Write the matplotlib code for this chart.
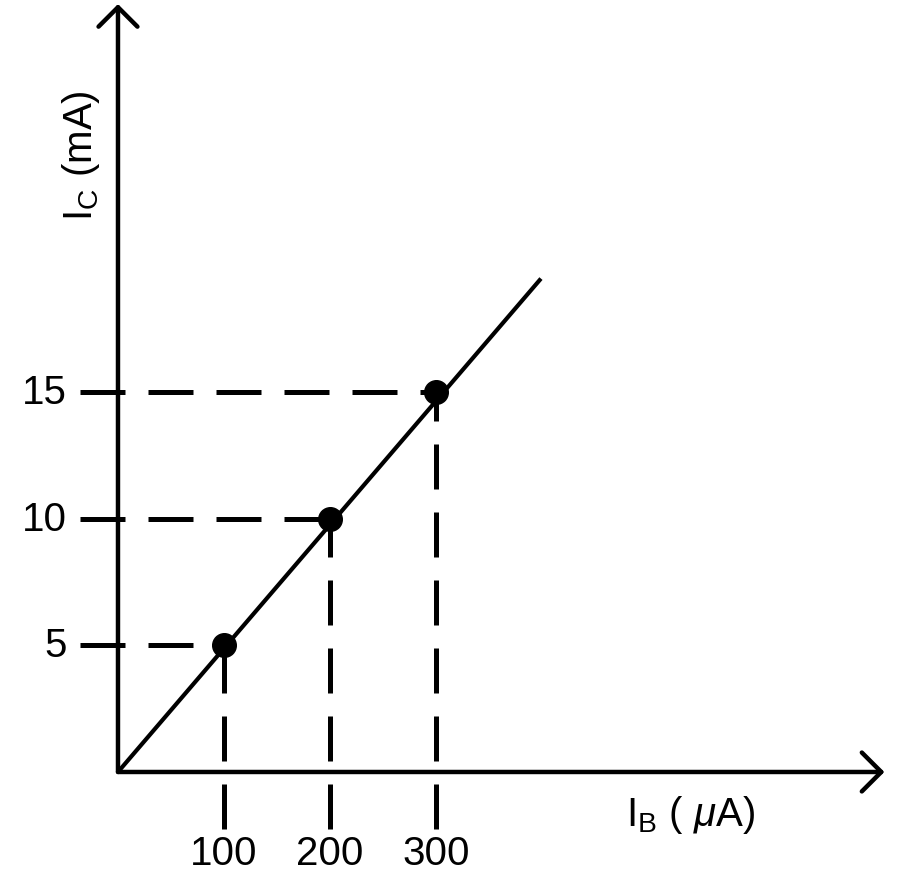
import matplotlib
matplotlib.use("Agg")
import matplotlib.pyplot as plt

plt.rcParams['font.family'] = ['Liberation Sans', 'DejaVu Sans']
plt.rcParams['mathtext.fontset'] = 'custom'
plt.rcParams['mathtext.rm'] = 'Liberation Sans'
plt.rcParams['mathtext.it'] = 'Liberation Sans:italic'

# data points (I_B in uA, I_C in mA)
ib_points = [100, 200, 300]
ic_points = [5, 10, 15]
ib_labels = ["100", "200", "300"]
ic_labels = ["5", "10", "15"]

# straight characteristic line through the origin
ib_line = [0, 399]
ic_line = [0, 19.5]

# axis extents
x_max = 723
y_max = 30.35

fig = plt.figure(figsize=(9, 8.79), dpi=100)
ax = fig.add_axes([0, 0, 1, 1])
ax.set_xlim(-111.3, 737.7)
ax.set_ylim(-4.19, 30.55)
ax.axis("off")

# axes with open arrow heads
arrow = dict(arrowstyle="->, head_length=0.7, head_width=0.7", color="black",
             lw=3.2, mutation_scale=20, shrinkA=0, shrinkB=0)
ax.annotate("", xy=(x_max, 0), xytext=(0, 0), arrowprops=arrow)
ax.annotate("", xy=(0, y_max), xytext=(0, 0), arrowprops=arrow)

# characteristic line
ax.plot(ib_line, ic_line, color="black", lw=3.0, solid_capstyle="butt")

# dashed guide lines
for xb, yc in zip(ib_points, ic_points):
    ax.plot([-36, xb], [yc, yc], color="black", lw=3.6, dashes=(9, 4.6))
    ax.plot([xb, xb], [-2.25, yc], color="black", lw=3.6, dashes=(9, 4.6))

ax.plot(ib_points, ic_points, "o", color="black", markersize=17, zorder=5)

# tick labels
for yc, lab in zip(ic_points, ic_labels):
    ax.text(-48, yc, lab, fontsize=29, ha="right", va="center")
for xb, lab in zip(ib_points, ib_labels):
    ax.text(xb, -3.2, lab, fontsize=29, ha="center", va="center")

# axis titles
ax.text(-35, 24.4, r"$\mathregular{I_C}$ (mA)", fontsize=29, rotation=90,
        ha="center", va="center")
ax.text(540, -1.65, r"$\mathregular{I_B}$ ( $\mathit{\mu}$A)", fontsize=29,
        ha="center", va="center")

fig.savefig("out.png", dpi=100)
